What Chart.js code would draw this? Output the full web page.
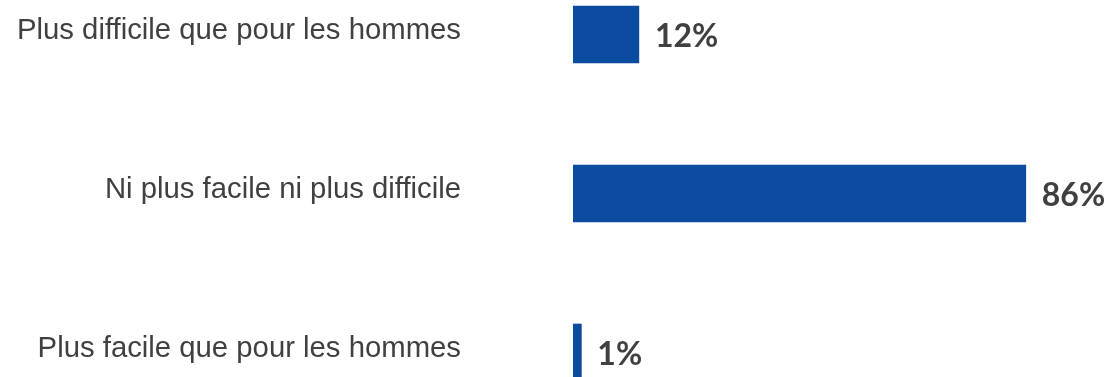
<!DOCTYPE html>
<html>
<head>
<meta charset="utf-8">
<script src="https://cdn.jsdelivr.net/npm/chart.js@4"></script>
<style>
  html, body { margin: 0; padding: 0; background: #fff; overflow: hidden; }
  #wrap { position: absolute; left: 0; top: -45px; width: 1111px; height: 477px; }
</style>
</head>
<body>
<div id="wrap"><canvas id="bar-chart"></canvas></div>
<script>
const categories = [
  "Plus difficile que pour les hommes",
  "Ni plus facile ni plus difficile",
  "Plus facile que pour les hommes",
];
const values = [12, 86, 1];
const valueLabels = ["12%", "86%", "1%"];

const BAR_COLOR = "#0b4ca1";
const TEXT_COLOR = "#404040";

// draws the percentage next to the end of each bar
const valueLabelPlugin = {
  id: "valueLabels",
  afterDatasetsDraw(chart) {
    const ctx = chart.ctx;
    const meta = chart.getDatasetMeta(0);
    ctx.save();
    ctx.font = "bold 32px Lato";
    ctx.fillStyle = TEXT_COLOR;
    ctx.textAlign = "left";
    ctx.textBaseline = "middle";
    meta.data.forEach((bar, i) => {
      ctx.fillText(valueLabels[i], bar.x + 16, bar.y + 2);
    });
    ctx.restore();
  },
};

const chart = new Chart(document.getElementById("bar-chart"), {
  type: "bar",
  data: {
    labels: categories,
    datasets: [
      {
        data: values,
        base: -0.6,
        backgroundColor: BAR_COLOR,
        barThickness: 57,
      },
    ],
  },
  options: {
    indexAxis: "y",
    responsive: true,
    maintainAspectRatio: false,
    animation: false,
    layout: { padding: { left: 0, right: 12, top: 0, bottom: 0 } },
    scales: {
      x: {
        display: false,
        min: -0.6,
        max: 100,
      },
      y: {
        grid: { display: false, drawTicks: false },
        border: { display: false },
        ticks: {
          padding: 112,
          labelOffset: -4,
          color: TEXT_COLOR,
          font: { family: "'Liberation Sans', Arial", size: 29.3 },
        },
        afterFit(scale) {
          // fixed axis width, and no extra room above/below the bands
          scale.width = 573;
          scale.paddingTop = 0;
          scale.paddingBottom = 0;
        },
      },
    },
    plugins: {
      legend: { display: false },
      tooltip: { enabled: false },
    },
  },
  plugins: [valueLabelPlugin],
});
</script>
</body>
</html>
